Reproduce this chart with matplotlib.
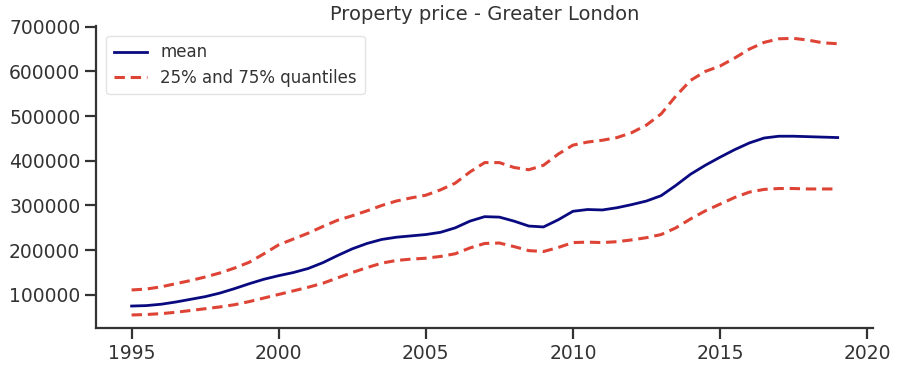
import numpy as np
import matplotlib
matplotlib.use("Agg")
import matplotlib.pyplot as plt

# valores (passo de meio ano)
anos = [1995.0 + 0.5 * i for i in range(49)]

media = [75000, 76000, 79000, 84000, 90000, 96000, 104000, 114000, 125000, 135000,
         143000, 150000, 159000, 172000, 188000, 203000, 215000, 224000, 229000, 232000,
         235000, 240000, 250000, 265000, 275000, 274000, 265000, 254000, 252000, 268000,
         287000, 291000, 290000, 295000, 302000, 310000, 322000, 345000, 370000, 390000,
         408000, 425000, 440000, 451000, 455000, 455000, 454000, 453000, 452000]

q75 = [111000, 113000, 118000, 125000, 132000, 140000, 149000, 160000, 173000, 192000,
       212000, 225000, 238000, 253000, 267000, 277000, 288000, 300000, 310000, 317000,
       323000, 335000, 350000, 375000, 396000, 396000, 385000, 380000, 390000, 415000,
       435000, 442000, 446000, 452000, 463000, 480000, 505000, 545000, 580000, 600000,
       612000, 630000, 650000, 665000, 673000, 674000, 670000, 664000, 662000]

q25 = [55000, 56000, 58000, 61000, 65000, 69000, 73000, 78000, 85000, 93000,
       101000, 109000, 117000, 126000, 138000, 150000, 161000, 171000, 177000, 180000,
       182000, 186000, 192000, 205000, 215000, 216000, 208000, 199000, 197000, 206000,
       217000, 218000, 217000, 219000, 223000, 228000, 235000, 250000, 270000, 288000,
       303000, 318000, 330000, 336000, 338000, 338000, 337000, 337000, 337000]

TITULO = "Property price - Greater London"
COR_TEXTO = "#333333"
AZUL = "#0a0a80"
VERMELHO = "#de4436"

plt.rcParams["font.family"] = "DejaVu Sans"

fig = plt.figure(figsize=(9, 3.8), dpi=100)
ax = fig.add_axes([0.107, 0.137, 0.863, 0.795])

ax.plot(anos, media, color=AZUL, lw=2.0, label="mean")
ax.plot(anos, q75, color=VERMELHO, lw=2.2, ls=(0, (3.4, 1.9)),
        label="25% and 75% quantiles")
ax.plot(anos, q25, color=VERMELHO, lw=2.2, ls=(0, (3.4, 1.9)))

ax.set_xlim(1993.8, 2020.2)
ax.set_ylim(26000, 702000)
ax.set_xticks([1995, 2000, 2005, 2010, 2015, 2020])
ax.set_yticks([100000, 200000, 300000, 400000, 500000, 600000, 700000])
ax.ticklabel_format(axis="y", style="plain", useOffset=False)

ax.spines[["top", "right"]].set_visible(False)
for s in ["left", "bottom"]:
    ax.spines[s].set_linewidth(1.6)
    ax.spines[s].set_color(COR_TEXTO)
ax.tick_params(axis="both", length=8, width=1.6, color=COR_TEXTO,
               labelsize=13.5, labelcolor=COR_TEXTO)

ax.set_title(TITULO, fontsize=14, color=COR_TEXTO, pad=4)

leg = ax.legend(loc="upper left", fontsize=12, frameon=True,
                bbox_to_anchor=(0.0, 1.0), borderaxespad=0.6,
                handlelength=2.0, borderpad=0.45, labelspacing=0.45)
for t in leg.get_texts():
    t.set_color(COR_TEXTO)
leg.get_frame().set_edgecolor("#dddddd")

plt.savefig("out.png", dpi=100)
plt.close()
